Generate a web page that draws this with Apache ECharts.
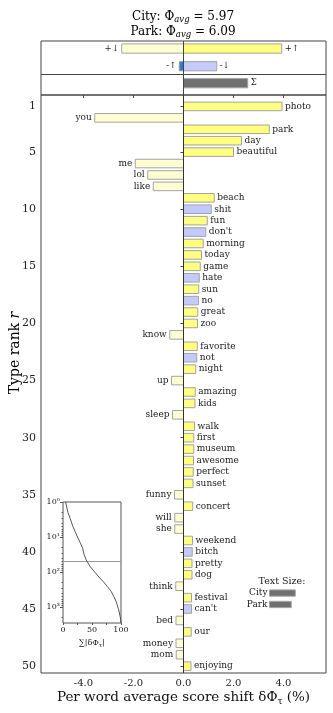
<!DOCTYPE html>
<html>
<head>
<meta charset="utf-8">
<script src="https://cdn.jsdelivr.net/npm/echarts@6/dist/echarts.min.js"></script>
<style>
    html, body { margin: 0; padding: 0; background: #fff; }
    #chart { width: 333px; height: 713px; }
</style>
</head>
<body>
<div id="chart"></div>
<script>
    // words, by type rank (1..50)
    const words = ['photo', 'you', 'park', 'day', 'beautiful', 'me', 'lol', 'like', 'beach', 'shit',
        'fun', "don't", 'morning', 'today', 'game', 'hate', 'sun', 'no', 'great', 'zoo',
        'know', 'favorite', 'not', 'night', 'up', 'amazing', 'kids', 'sleep', 'walk', 'first',
        'museum', 'awesome', 'perfect', 'sunset', 'funny', 'concert', 'will', 'she', 'weekend', 'bitch',
        'pretty', 'dog', 'think', 'festival', "can't", 'bed', 'our', 'money', 'mom', 'enjoying']
    // per word score shift (%)
    const shifts = [3.94, -3.55, 3.43, 2.32, 2.00, -1.93, -1.43, -1.21, 1.23, 1.11,
        0.95, 0.89, 0.79, 0.72, 0.67, 0.63, 0.61, 0.60, 0.57, 0.56,
        -0.55, 0.55, 0.53, 0.49, -0.48, 0.47, 0.46, -0.44, 0.44, 0.41,
        0.41, 0.40, 0.39, 0.38, -0.36, 0.37, -0.35, -0.35, 0.36, 0.35,
        0.34, 0.34, -0.31, 0.32, 0.32, -0.30, 0.31, -0.30, -0.29, 0.30]
    // shift type: pp = +↑, pn = +↓, nn = -↓, np = -↑
    const kinds = ['pp', 'pn', 'pp', 'pp', 'pp', 'pn', 'pn', 'pn', 'pp', 'nn',
        'pp', 'nn', 'pp', 'pp', 'pp', 'nn', 'pp', 'nn', 'pp', 'pp',
        'pn', 'pp', 'nn', 'pp', 'pn', 'pp', 'pp', 'pn', 'pp', 'pp',
        'pp', 'pp', 'pp', 'pp', 'pn', 'pp', 'pn', 'pn', 'pp', 'nn',
        'pp', 'pp', 'pn', 'pp', 'nn', 'pn', 'pp', 'pn', 'pn', 'pp']

    // summary bars
    const sumLabels = ['+↑', '+↓', '-↓', '-↑', 'Σ']
    const sumKinds = ['pp', 'pn', 'nn', 'np', 'tot']
    const sumValues = [3.93, -2.47, 1.33, -0.17, 2.57]

    // inset: cumulative |δΦ| (%) against rank
    const cumRanks = [1, 2, 3, 5, 7, 10, 15, 20, 32, 45, 69, 102, 140, 185, 260, 357, 500, 690, 1200, 2050, 2870]
    const cumPct = [4.5, 8.5, 12.5, 17, 21, 25, 30, 33.5, 36.5, 40, 46.5, 55, 62, 69, 76.5, 83, 87.5, 91.5, 96, 99, 100]

    // text size legend
    const sizeLabels = ['City', 'Park']
    const sizeValues = [1.03, 0.87]

    const colors = {pp: '#FFFF80', pn: '#FDFFD2', nn: '#C4CAFC', np: '#2F7CCE', tot: '#707070'}
    const font = '"DejaVu Serif", "Liberation Serif", serif'
    const ink = '#222'
    const sumRows = [0.65, 0.65, 2.18, 2.18, 3.65]

    let myChart = echarts.init(document.getElementById('chart'))

    function barItem (api, v, r, h, color, label, fs) {
        let p0 = api.coord([0, r])
        let p1 = api.coord([v, r])
        let hh = api.size([0, h])[1]
        return {
            type: 'group',
            children: [
                {
                    type: 'rect',
                    shape: {x: Math.min(p0[0], p1[0]), y: p0[1] - hh / 2, width: Math.abs(p1[0] - p0[0]), height: hh},
                    style: {fill: color, stroke: '#a3a3a3', lineWidth: 1}
                },
                {
                    type: 'text',
                    style: {
                        text: label,
                        x: v >= 0 ? p1[0] + 3 : p1[0] - 3,
                        y: p0[1],
                        align: v >= 0 ? 'left' : 'right',
                        verticalAlign: 'middle',
                        font: fs + 'px ' + font,
                        fill: ink
                    }
                }
            ]
        }
    }

    let titleRich = {
        a: {fontSize: 12, fontFamily: font, color: '#111', lineHeight: 15},
        s: {fontSize: 8.5, fontFamily: font, fontStyle: 'italic', color: '#111', lineHeight: 15, verticalAlign: 'bottom'}
    }

    let option = {
        animation: false,
        graphic: [
            {
                type: 'text', x: 183, y: 17,
                style: {text: '{a|City: Φ}{s|avg}{a| = 5.97}', align: 'center', verticalAlign: 'middle', rich: titleRich}
            },
            {
                type: 'text', x: 183, y: 32,
                style: {text: '{a|Park: Φ}{s|avg}{a| = 6.09}', align: 'center', verticalAlign: 'middle', rich: titleRich}
            },
            {
                // y axis title, centred on the whole column of panels
                type: 'text', x: 15, y: 353, rotation: Math.PI / 2,
                style: {
                    text: '{a|Type rank }{i|r}', align: 'center', verticalAlign: 'middle',
                    rich: {
                        a: {fontSize: 14, fontFamily: font, color: '#111'},
                        i: {fontSize: 14, fontFamily: font, fontStyle: 'italic', color: '#111'}
                    }
                }
            },
            {
                type: 'text', x: 282, y: 582,
                style: {text: 'Text Size:', align: 'center', verticalAlign: 'middle', font: '9.5px ' + font, fill: ink}
            }
        ],
        grid: [
            {left: 41, width: 285, top: 41, height: 54, show: true, borderColor: '#444', borderWidth: 1, outerBoundsMode: 'none'},
            {left: 41, width: 285, top: 95, height: 578, show: true, borderColor: '#444', borderWidth: 1, outerBoundsMode: 'none'},
            {left: 63, width: 58, top: 502, height: 121, show: true, borderColor: '#555', borderWidth: 1, backgroundColor: '#fff', z: 5, outerBoundsMode: 'none'}
        ],
        xAxis: [
            {
                gridIndex: 0, type: 'value', min: -5.7, max: 5.7,
                axisLine: {show: false}, axisTick: {show: false}, axisLabel: {show: false}, splitLine: {show: false}
            },
            {
                gridIndex: 1, type: 'value', min: -5.7, max: 5.7,
                axisLine: {show: false},
                axisTick: {show: true, length: 3, lineStyle: {color: '#444'}, customValues: [-4, -2, 0, 2, 4]},
                axisLabel: {
                    customValues: [-4, -2, 0, 2, 4], fontSize: 10, fontFamily: font, color: ink, margin: 5,
                    formatter: v => v.toFixed(1)
                },
                splitLine: {show: false},
                name: '{a|Per word average score shift δΦ}{s|τ}{a| (%)}',
                nameLocation: 'middle', nameGap: 16, nameMoveOverlap: false,
                nameTextStyle: {
                    rich: {
                        a: {fontSize: 13.5, fontFamily: font, color: '#111', lineHeight: 17},
                        s: {fontSize: 9, fontFamily: font, color: '#111', lineHeight: 17, verticalAlign: 'bottom'}
                    }
                }
            },
            {
                gridIndex: 2, type: 'value', min: 0, max: 100, interval: 25,
                axisLine: {show: false},
                axisTick: {show: true, length: 2, lineStyle: {color: '#555'}},
                axisLabel: {
                    fontSize: 8, fontFamily: font, color: ink, margin: 3,
                    formatter: v => (v % 50 === 0 ? String(v) : '')
                },
                splitLine: {show: false},
                name: '{a|∑|δΦ}{s|τ}{a||}',
                nameLocation: 'middle', nameGap: 14, nameMoveOverlap: false,
                nameTextStyle: {
                    rich: {
                        a: {fontSize: 8, fontFamily: font, color: '#111', lineHeight: 11},
                        s: {fontSize: 6, fontFamily: font, color: '#111', lineHeight: 11, verticalAlign: 'bottom'}
                    }
                }
            }
        ],
        yAxis: [
            {
                gridIndex: 0, type: 'value', min: 0, max: 4.67, inverse: true,
                axisLine: {show: false}, axisTick: {show: false}, axisLabel: {show: false}, splitLine: {show: false}
            },
            {
                gridIndex: 1, type: 'value', min: 0, max: 50.6, inverse: true,
                axisLine: {show: false},
                axisTick: {show: true, length: 3, lineStyle: {color: '#444'}, customValues: [1, 5, 10, 15, 20, 25, 30, 35, 40, 45, 50]},
                axisLabel: {customValues: [1, 5, 10, 15, 20, 25, 30, 35, 40, 45, 50], fontSize: 11, fontFamily: font, color: ink, margin: 5},
                splitLine: {show: false}
            },
            {
                gridIndex: 2, type: 'log', min: 1, max: 2870, inverse: true,
                axisLine: {show: false},
                axisTick: {show: true, length: 3, lineStyle: {color: '#555'}, customValues: [1, 10, 100, 1000]},
                axisLabel: {
                    customValues: [1, 10, 100, 1000], fontSize: 8, fontFamily: font, color: ink, margin: 3,
                    formatter: v => ({1: '10⁰', 10: '10¹', 100: '10²', 1000: '10³'}[Math.round(v)] || '')
                },
                splitLine: {show: false}
            },
            {
                gridIndex: 2, type: 'log', min: 1, max: 2870, inverse: true, position: 'left',
                axisLine: {show: false},
                axisTick: {
                    show: true, length: 1.5, lineStyle: {color: '#555'},
                    customValues: [2, 3, 4, 5, 6, 7, 8, 9, 20, 30, 40, 50, 60, 70, 80, 90,
                        200, 300, 400, 500, 600, 700, 800, 900, 2000]
                },
                axisLabel: {show: false},
                splitLine: {show: false}
            }
        ],
        series: [
            {
                type: 'custom',
                xAxisIndex: 0, yAxisIndex: 0,
                clip: false,
                data: sumValues.map((v, i) => [v, sumRows[i]]),
                renderItem: (params, api) => barItem(api, api.value(0), api.value(1), 0.8,
                    colors[sumKinds[params.dataIndex]], sumLabels[params.dataIndex], 8.5),
                markLine: {
                    silent: true, symbol: 'none', label: {show: false},
                    lineStyle: {color: '#444', width: 1, type: 'solid'},
                    data: [{xAxis: 0}, {yAxis: 2.86}]
                }
            },
            {
                type: 'custom',
                xAxisIndex: 1, yAxisIndex: 1,
                clip: false,
                data: shifts.map((v, i) => [v, i + 1]),
                renderItem: (params, api) => barItem(api, api.value(0), api.value(1), 0.75,
                    colors[kinds[params.dataIndex]], words[params.dataIndex], 9),
                markLine: {
                    silent: true, symbol: 'none', label: {show: false},
                    lineStyle: {color: '#333', width: 1, type: 'solid'},
                    data: [{xAxis: 0}]
                }
            },
            {
                // text size legend
                type: 'custom',
                xAxisIndex: 1, yAxisIndex: 1,
                clip: false,
                data: sizeValues.map((v, i) => [v, i]),
                renderItem: (params, api) => {
                    let r = 43.6 + api.value(1)
                    let p0 = api.coord([3.44, r])
                    let p1 = api.coord([3.44 + api.value(0), r])
                    let hh = api.size([0, 0.55])[1]
                    return {
                        type: 'group',
                        children: [
                            {
                                type: 'rect',
                                shape: {x: p0[0], y: p0[1] - hh / 2, width: p1[0] - p0[0], height: hh},
                                style: {fill: '#707070', stroke: '#a3a3a3', lineWidth: 1}
                            },
                            {
                                type: 'text',
                                style: {
                                    text: sizeLabels[params.dataIndex], x: p0[0] - 2, y: p0[1],
                                    align: 'right', verticalAlign: 'middle', font: '9px ' + font, fill: ink
                                }
                            }
                        ]
                    }
                }
            },
            {
                type: 'line',
                xAxisIndex: 2, yAxisIndex: 2,
                z: 6,
                data: cumPct.map((v, i) => [v, cumRanks[i]]),
                showSymbol: false,
                lineStyle: {color: '#555', width: 1},
                markLine: {
                    silent: true, symbol: 'none', label: {show: false},
                    lineStyle: {color: '#999', width: 1, type: 'solid'},
                    data: [{yAxis: 50}]
                }
            }
        ]
    }
    myChart.setOption(option)
</script>
</body>
</html>
